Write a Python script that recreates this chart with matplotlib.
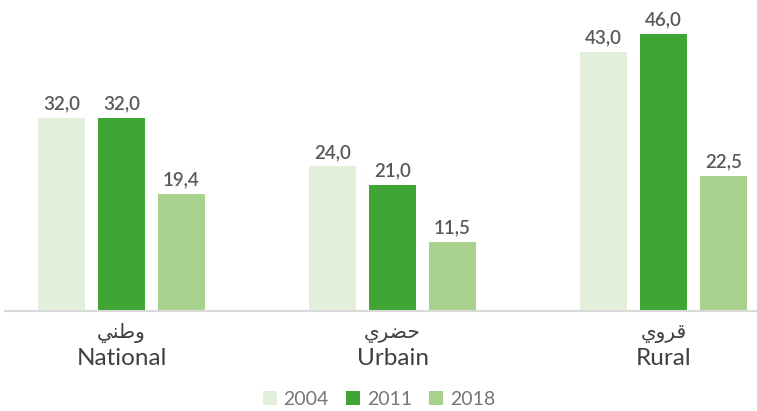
import matplotlib
matplotlib.use("Agg")
import matplotlib.pyplot as plt
import matplotlib.transforms as mtransforms
from matplotlib.patches import Patch
import numpy as np

# ---- data ----
categories_en = ["National", "Urbain", "Rural"]
categories_ar = ["وطني", "حضري", "قروي"]
series_names = ["2004", "2011", "2018"]
values_2004 = [32.0, 24.0, 43.0]
values_2011 = [32.0, 21.0, 46.0]
values_2018 = [19.4, 11.5, 22.5]
colors = ["#e2efda", "#3fa535", "#a9d18e"]

# ---- minimal Arabic shaping (matplotlib has no complex text layout) ----
_FORMS = {  # isolated, final, initial, medial
    "و": ("\uFEED", "\uFEEE", None, None),
    "ر": ("\uFEAD", "\uFEAE", None, None),
    "ط": ("\uFEC1", "\uFEC2", "\uFEC3", "\uFEC4"),
    "ن": ("\uFEE5", "\uFEE6", "\uFEE7", "\uFEE8"),
    "ي": ("\uFEF1", "\uFEF2", "\uFEF3", "\uFEF4"),
    "ح": ("\uFEA1", "\uFEA2", "\uFEA3", "\uFEA4"),
    "ض": ("\uFEBD", "\uFEBE", "\uFEBF", "\uFEC0"),
    "ق": ("\uFED5", "\uFED6", "\uFED7", "\uFED8"),
}


def shape_ar(s):
    out = []
    n = len(s)
    for i, ch in enumerate(s):
        f = _FORMS.get(ch)
        if f is None:
            out.append(ch)
            continue
        prev = s[i - 1] if i > 0 else None
        nxt = s[i + 1] if i < n - 1 else None
        jp = prev in _FORMS and _FORMS[prev][2] is not None
        jn = nxt in _FORMS and f[2] is not None
        if jp and jn:
            out.append(f[3])
        elif jp:
            out.append(f[1])
        elif jn:
            out.append(f[2])
        else:
            out.append(f[0])
    return "".join(reversed(out))


W, H = 757, 411
fig = plt.figure(figsize=(W / 100, H / 100), dpi=100)
ax_left, ax_right, ax_base = 5, 757, 311
ax = fig.add_axes([ax_left / W, (H - ax_base) / H, (ax_right - ax_left) / W, ax_base / H])

x = np.arange(len(categories_en))
gap = 271.0
bw = 47 / gap
step = 60 / gap
all_series = [values_2004, values_2011, values_2018]
for k, (vals, c, name) in enumerate(zip(all_series, colors, series_names)):
    xs = x + (k - 1) * step
    bars = ax.bar(xs, vals, width=bw, color=c, label=name, zorder=2)
    for xi, v in zip(xs, vals):
        ax.annotate(f"{v:.1f}".replace(".", ","), (xi, v), xytext=(0, 4),
                    textcoords="offset points", ha="center", va="bottom",
                    fontsize=13.5, color="#595959", fontfamily="Lato",
                    fontweight="semibold")

px_per_unit = 277 / 46.0
ax.set_ylim(0, ax_base / px_per_unit)
xl = (ax_left - 121.5) / gap
xr = (ax_right - 121.5) / gap
ax.set_xlim(xl, xr)

for s in ["top", "left", "right"]:
    ax.spines[s].set_visible(False)
ax.spines["bottom"].set_color("#d9d9d9")
ax.spines["bottom"].set_linewidth(1.5)
ax.set_yticks([])
ax.set_xticks(x)
ax.set_xticklabels([])
ax.tick_params(axis="x", length=0)

trans = mtransforms.blended_transform_factory(ax.transData, fig.transFigure)
for xi, ar, en in zip(x, categories_ar, categories_en):
    ax.text(xi, (H - 333) / H, shape_ar(ar), transform=trans, ha="center",
            va="center", fontsize=14.5, color="#404040",
            fontfamily=["DejaVu Sans"])
    ax.text(xi, (H - 358) / H, en, transform=trans, ha="center",
            va="center", fontsize=17.5, color="#404040", fontfamily="Lato")

handles = [Patch(facecolor=c, edgecolor="none", label=n)
           for c, n in zip(colors, series_names)]
fig.legend(handles=handles, loc="center", bbox_to_anchor=(379 / W, (H - 399) / H),
           ncol=3, frameon=False, handlelength=0.7,
           handleheight=0.7, handletextpad=0.35, columnspacing=0.9,
           labelcolor="#767676", prop={"family": "Lato", "size": 14})

fig.savefig("out.png", dpi=100)
